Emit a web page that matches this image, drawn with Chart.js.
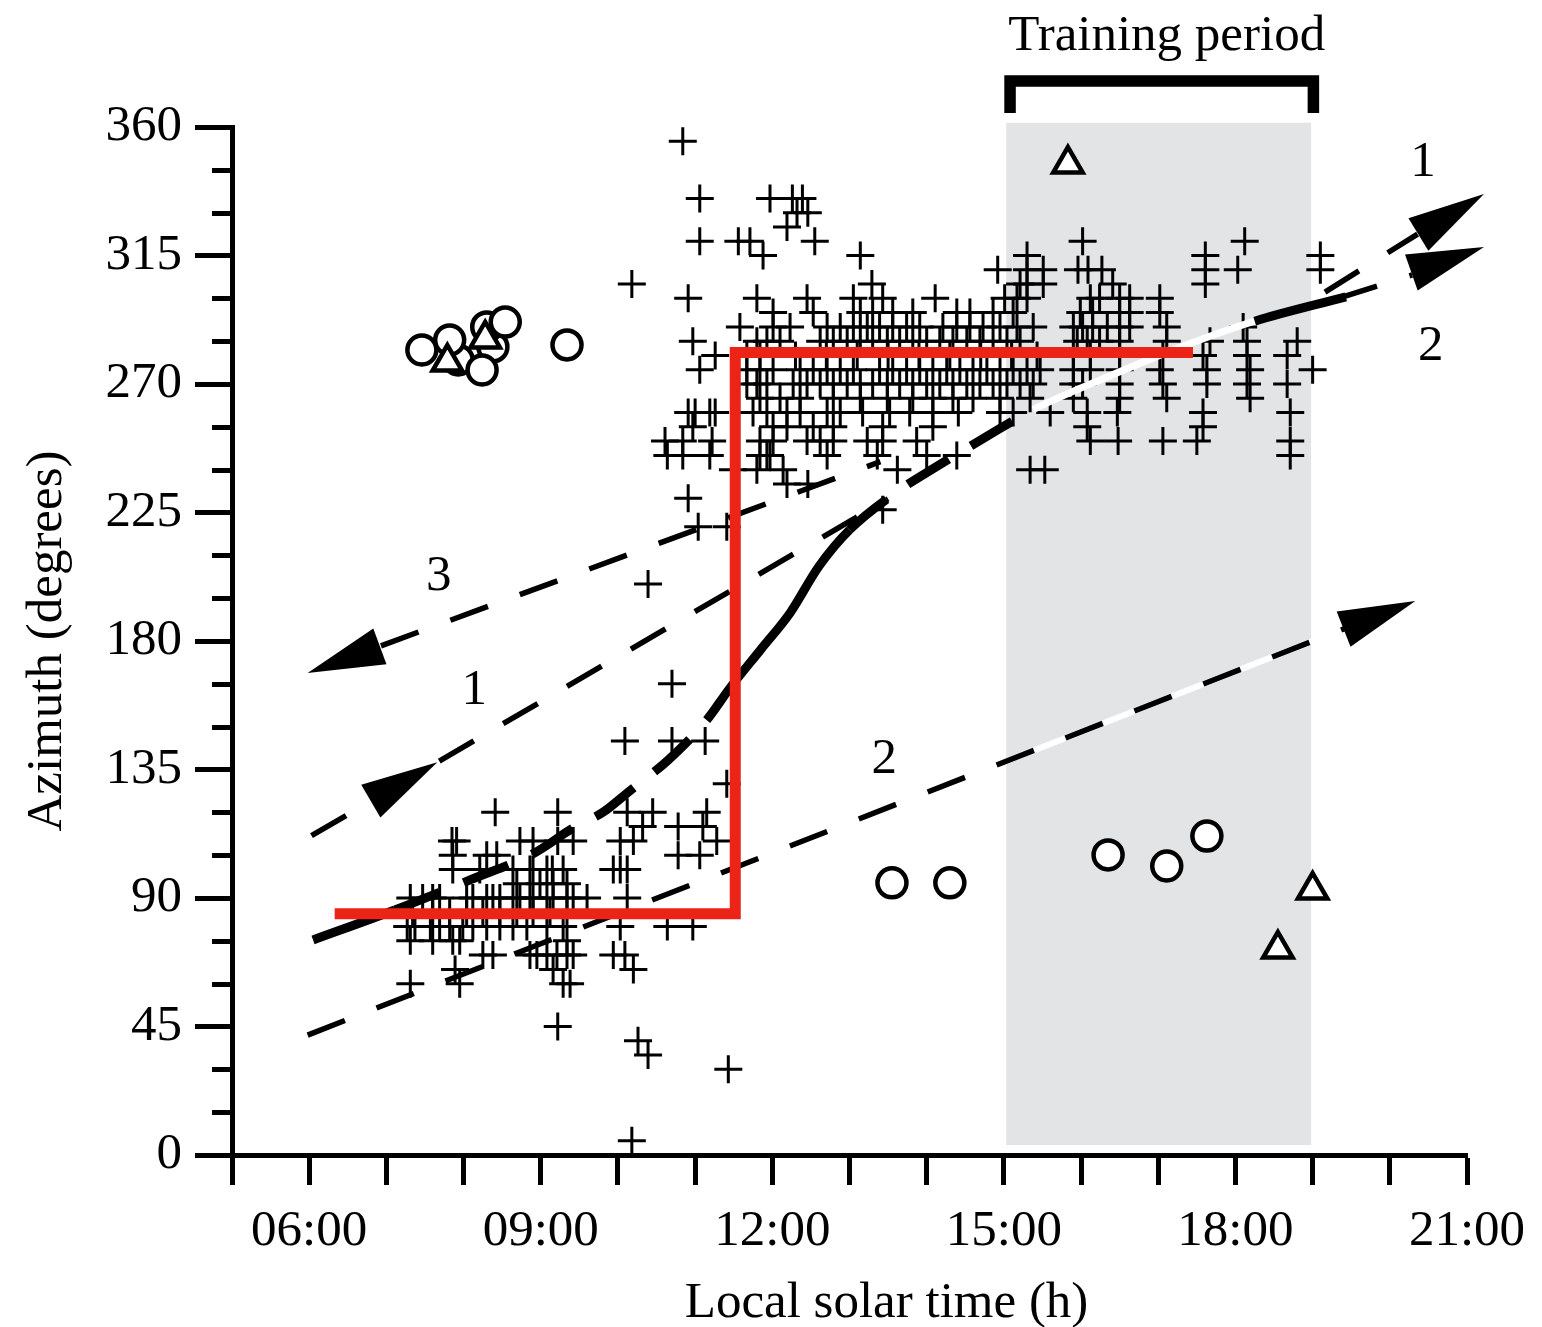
<!DOCTYPE html>
<html>
<head>
<meta charset="utf-8">
<script src="https://cdn.jsdelivr.net/npm/chart.js"></script>
<style>
html,body{margin:0;padding:0;background:#fff;}
#wrap{width:1542px;height:1327px;}
</style>
</head>
<body>
<div id="wrap"><canvas id="c" width="1542" height="1327"></canvas></div>
<script>
const FONT = '"Liberation Serif","Times New Roman",serif';

// ---- tick labels ----
const xTickHours = [6, 9, 12, 15, 18, 21];
const xTickLabels = ['06:00', '09:00', '12:00', '15:00', '18:00', '21:00'];
const yTickLabels = [0, 45, 90, 135, 180, 225, 270, 315, 360];

// ---- plus markers: [azimuth, [local solar times]] ----
const lowCrossRows = [
  [120, [8.41, 9.22, 10.12, 10.45, 11.15]],
  [115, [10.32, 10.78, 11.10]],
  [110, [7.85, 7.91, 8.73, 8.90, 9.22, 9.42, 10.03, 10.20, 11.28]],
  [105, [7.86, 8.30, 8.43, 10.78, 11.06]],
  [100, [7.86, 8.21, 8.64, 8.86, 8.90, 9.08, 9.15, 9.29, 9.94, 10.03, 10.12]],
  [95, [8.69, 8.99, 9.16, 9.34]],
  [90, [7.31, 7.47, 7.60, 7.69, 8.04, 8.12, 8.30, 8.38, 8.47, 8.64, 8.73, 8.86, 8.90, 9.08, 9.16, 9.34, 9.42, 9.60, 10.12]],
  [85, [7.34, 7.60, 7.82, 8.04, 8.25, 8.47, 8.69, 8.90, 9.12, 9.34]],
  [80, [7.27, 7.37, 7.57, 7.69, 7.82, 7.99, 8.12, 8.30, 8.47, 8.64, 8.82, 9.08, 9.29, 10.03, 10.64, 10.97]],
  [75, [7.31, 7.60, 7.86, 7.95, 9.34]],
  [70, [8.25, 8.38, 8.86, 8.95, 9.08, 9.21, 9.34, 9.42, 9.94, 10.09]],
  [65, [7.89, 9.16, 10.20]],
  [60, [7.31, 7.95, 9.29, 9.38]],
  [45, [9.22]],
  [40, [10.26]],
  [35, [10.39]],
  [30, [11.43]],
  [5, [10.18]]
];
const midCrossRows = [
  [130, [11.41]],
  [145, [10.09, 10.70, 11.13]],
  [165, [10.70]],
  [200, [10.39]],
  [220, [11.04, 11.41]],
  [226, [13.43]],
  [230, [10.91]],
  [235, [12.19, 12.46]],
  [240, [11.49, 11.80, 12.14, 13.62, 15.34, 15.53]],
  [245, [10.64, 10.84, 11.19, 11.84, 11.93, 11.97, 12.71, 13.36, 14.00, 14.39, 18.71]],
  [250, [10.61, 10.84, 11.22, 11.84, 12.01, 12.45, 12.62, 12.79, 13.23, 13.43, 13.87, 16.12, 16.48, 17.06, 17.50, 18.71]]
];
const highCrossRows = [
  [355, [10.84]],
  [335, [11.06, 11.97, 12.26, 12.39]],
  [330, [12.32, 12.46]],
  [325, [12.19]],
  [320, [11.06, 11.56, 11.71, 12.55, 16.02, 18.12]],
  [315, [11.88, 13.14, 15.30, 17.61, 19.10]],
  [310, [14.92, 15.30, 15.51, 15.96, 16.09, 16.27, 17.61, 18.03, 19.10]],
  [305, [10.18, 13.29, 15.21, 15.30, 15.51, 16.41, 17.61]],
  [300, [10.91, 11.80, 12.45, 13.05, 13.43, 14.11, 15.01, 15.17, 15.30, 16.12, 16.24, 16.50, 16.63, 17.02]],
  [295, [12.01, 12.53, 13.14, 13.30, 13.56, 13.82, 14.39, 14.56, 14.86, 15.12, 15.99, 16.15, 16.50, 16.63, 17.02]],
  [290, [11.58, 12.01, 12.23, 12.71, 12.88, 13.05, 13.23, 13.39, 13.56, 13.74, 13.91, 14.21, 14.39, 14.56, 14.73, 14.95, 15.17, 15.38, 15.90, 16.02, 16.15, 16.34, 16.50, 16.63, 17.11, 18.10]],
  [285, [10.97, 11.80, 11.93, 12.10, 12.62, 12.79, 12.97, 13.14, 13.30, 13.49, 13.65, 13.82, 14.00, 14.17, 14.34, 14.52, 14.69, 14.86, 15.04, 15.21, 15.95, 16.08, 16.24, 16.50, 17.11, 17.67, 18.15, 18.80]],
  [280, [11.26, 11.67, 11.84, 12.30, 12.70, 13.10, 13.50, 13.90, 14.30, 14.70, 15.10, 15.43, 15.90, 16.12, 16.50, 17.06, 17.58, 18.15, 18.67]],
  [275, [11.06, 11.67, 11.84, 12.01, 12.36, 12.53, 12.71, 12.88, 13.05, 13.39, 13.56, 13.74, 13.91, 14.08, 14.26, 14.43, 14.60, 14.78, 14.95, 15.12, 15.30, 15.47, 15.90, 16.12, 16.50, 17.02, 17.63, 18.19, 19.00]],
  [270, [11.67, 11.80, 11.93, 12.27, 12.45, 12.62, 12.79, 12.97, 13.14, 13.30, 13.49, 13.65, 13.82, 14.00, 14.17, 14.34, 14.52, 14.69, 14.86, 15.04, 15.21, 15.38, 15.90, 16.02, 16.50, 17.06, 17.63, 18.15, 18.67]],
  [265, [11.84, 12.10, 12.36, 12.79, 13.14, 13.49, 13.82, 14.08, 14.34, 14.60, 14.95, 15.34, 15.90, 16.50, 17.11, 18.19]],
  [260, [10.91, 11.00, 11.19, 11.26, 11.75, 11.93, 12.19, 12.36, 12.71, 12.88, 13.17, 13.52, 13.78, 14.08, 14.41, 14.95, 15.12, 15.60, 16.08, 16.47, 17.58, 18.71]],
  [255, [10.97, 12.01, 12.19, 12.53, 12.79, 13.43, 14.08, 16.08, 17.58]]
];

// ---- open circles and triangles: [time, azimuth] ----
const circlePoints = [[7.46, 281.9], [7.93, 278.4], [7.82, 285.4], [8.38, 283], [8.24, 274.9], [8.30, 290], [8.54, 291.7], [9.34, 283.7],
  [13.55, 95.3], [14.30, 95.3], [16.35, 105.1], [17.11, 101.2], [17.63, 111.7]];
const trianglePoints = [[15.83, 347], [19.0, 92.8], [18.55, 72.1], [8.28, 285.8], [7.79, 277.7]];

// ---- thick solar azimuth curve ----
const sunTimes = [6.05, 7.11, 8.1, 8.9, 9.42, 9.81, 10.12, 10.65, 11.15, 11.45, 11.85, 12.23, 12.6, 13.0, 13.65, 14.1, 14.8, 15.38, 16.3, 17.3, 18.25, 19.43];
const sunAzimuths = [75.3, 85.8, 96.5, 105.5, 114.5, 120.1, 126.8, 138.3, 152.3, 163.5, 177, 189.8, 206, 218.9, 232.9, 240.6, 252, 261, 272, 283, 292, 300.5];

// ---- dashed predicted routes: [time, azimuth] end points ----
const route1 = [[6.03, 111.8], [13.5, 229.8]];
const route2 = [[5.98, 42.0], [19.43, 184.5]];
const route2Bright = [[14.95, 137.0], [19.43, 184.5]];
const route3 = [[6.93, 178.3], [13.4, 242.8]];
const route1Late = [[19.16, 302.2], [20.36, 322.5]];
const route2Late = [[19.34, 300.1], [20.29, 308.2]];
// arrow heads: [tipTime, tipAz, tailTime, tailAz]
const arrowHeads = [[5.98, 168.8, 13.4, 242.8], [7.66, 137.5, 6.03, 111.8], [20.33, 194.0, 5.98, 42.0],
  [21.22, 336.5, 19.16, 302.2], [21.22, 318.0, 19.34, 300.1]];
const routeLabels = ['1', '2', '3', '1', '2'];
const routeLabelTimes = [20.43, 20.53, 7.68, 8.14, 13.45];
const routeLabelAz = [347.4, 283.0, 202.4, 162.8, 138.3];

// ---- red step ----
const stepTimes = [6.33, 11.52, 11.52, 17.45];
const stepAz = [84.5, 84.5, 281, 281];

// ---- training period ----
const trainingWindow = [15.03, 18.98];
const trainingAz = [3.5, 361.5];
const bracketTimes = [15.08, 19.01];

const rowsToPts = rows => rows.flatMap(([az, ts]) => ts.map(t => ({x: t, y: az})));
const pairsToPts = arr => arr.map(([x, y]) => ({x, y}));
const zipPts = (xs, ys) => xs.map((x, i) => ({x, y: ys[i]}));

function sunSegKind(c) {
  const t0 = c.p0.parsed.x;
  if (t0 < 7.0) return 'solid';
  if (t0 < 11.0) return 'dash';
  if (t0 < 12.9) return 'solid';
  if (t0 < 15.3) return 'dash';
  if (t0 < 18.2) return 'white';
  return 'solid';
}

const dashLine = (pts, order) => ({
  data: pairsToPts(pts), showLine: true, borderColor: '#000', borderWidth: 5.5,
  borderDash: [40, 34], borderCapStyle: 'butt', pointRadius: 0, tension: 0, order, clip: false
});

const deco = {
  id: 'deco',
  beforeDatasetsDraw(chart) {
    const {ctx, scales: {x, y}} = chart;
    ctx.save();
    ctx.fillStyle = '#e3e4e6';
    const x0 = x.getPixelForValue(trainingWindow[0]), x1 = x.getPixelForValue(trainingWindow[1]);
    const y0 = y.getPixelForValue(trainingAz[1]), y1 = y.getPixelForValue(trainingAz[0]);
    ctx.fillRect(x0, y0, x1 - x0, y1 - y0);
    ctx.restore();
  },
  afterDatasetsDraw(chart) {
    const {ctx, scales: {x, y}} = chart;
    ctx.save();
    ctx.fillStyle = '#000';
    arrowHeads.forEach(([tt, ta, bt, ba]) => {
      const tx = x.getPixelForValue(tt), ty = y.getPixelForValue(ta);
      const fx = x.getPixelForValue(bt), fy = y.getPixelForValue(ba);
      const ang = Math.atan2(ty - fy, tx - fx);
      const len = 77, half = 19;
      const bx = tx - Math.cos(ang) * len, by = ty - Math.sin(ang) * len;
      const nx = -Math.sin(ang) * half, ny = Math.cos(ang) * half;
      ctx.beginPath();
      ctx.moveTo(tx, ty);
      ctx.lineTo(bx + nx, by + ny);
      ctx.lineTo(bx - nx, by - ny);
      ctx.closePath();
      ctx.fill();
    });
    ctx.restore();
  },
  afterDraw(chart) {
    const {ctx, chartArea, scales: {x, y}} = chart;
    ctx.save();
    // minor y ticks
    ctx.strokeStyle = '#000';
    ctx.lineWidth = 5;
    ctx.beginPath();
    y.ticks.forEach(t => {
      if (t.value % 45 !== 0) {
        const py = Math.round(y.getPixelForValue(t.value)) + 0.5;
        ctx.moveTo(chartArea.left - 20, py);
        ctx.lineTo(chartArea.left, py);
      }
    });
    ctx.stroke();
    // route labels
    ctx.fillStyle = '#000';
    ctx.font = '51px ' + FONT;
    ctx.textAlign = 'center';
    ctx.textBaseline = 'middle';
    routeLabels.forEach((s, i) => {
      ctx.fillText(s, x.getPixelForValue(routeLabelTimes[i]), y.getPixelForValue(routeLabelAz[i]));
    });
    // training bracket
    const bl = x.getPixelForValue(bracketTimes[0]), br = x.getPixelForValue(bracketTimes[1]);
    ctx.lineWidth = 11.5;
    ctx.lineJoin = 'miter';
    ctx.lineCap = 'butt';
    ctx.beginPath();
    ctx.moveTo(bl, 113);
    ctx.lineTo(bl, 81);
    ctx.lineTo(br, 81);
    ctx.lineTo(br, 113);
    ctx.stroke();
    ctx.textBaseline = 'alphabetic';
    ctx.fillText('Training period', (bl + br) / 2 + 5, 50);
    // axis titles
    ctx.fillText('Local solar time (h)', x.getPixelForValue(13.48), 1317);
    ctx.translate(61, (chartArea.top + chartArea.bottom) / 2);
    ctx.rotate(-Math.PI / 2);
    ctx.fillText('Azimuth (degrees)', 0, 0);
    ctx.restore();
  }
};

new Chart(document.getElementById('c'), {
  type: 'line',
  data: {
    datasets: [
      {data: zipPts(stepTimes, stepAz), showLine: true, borderColor: '#ec2418', borderWidth: 11,
        borderJoinStyle: 'miter', borderCapStyle: 'butt', pointRadius: 0, tension: 0, order: 0, clip: false},
      {data: zipPts(sunTimes, sunAzimuths), showLine: true, borderColor: '#000', borderWidth: 9,
        cubicInterpolationMode: 'monotone', pointRadius: 0, order: 1, clip: false,
        segment: {
          borderDash: c => sunSegKind(c) === 'dash' ? [48, 26] : [],
          borderColor: c => sunSegKind(c) === 'white' ? '#ffffff' : '#000000',
          borderWidth: c => sunSegKind(c) === 'white' ? 7 : 9
        }},
      dashLine(route1, 2),
      dashLine(route2, 2),
      dashLine(route3, 2),
      dashLine(route1Late, 2),
      dashLine(route2Late, 2),
      {data: pairsToPts(route2Bright), showLine: true, borderColor: '#ffffff', borderWidth: 6,
        pointRadius: 0, tension: 0, order: 3, clip: false},
      {data: pairsToPts(trianglePoints), showLine: false, pointStyle: 'triangle', pointRadius: 17,
        pointBorderWidth: 4.5, pointBorderColor: '#000', pointBackgroundColor: '#fff', order: 4, clip: false},
      {data: pairsToPts(circlePoints), showLine: false, pointStyle: 'circle', pointRadius: 14.5,
        pointBorderWidth: 4.5, pointBorderColor: '#000', pointBackgroundColor: '#fff', order: 5, clip: false},
      {data: rowsToPts(lowCrossRows).concat(rowsToPts(midCrossRows), rowsToPts(highCrossRows)),
        showLine: false, pointStyle: 'cross', pointRadius: 14, pointBorderWidth: 3,
        pointBorderColor: '#000', pointBackgroundColor: '#000', order: 6, clip: false}
    ]
  },
  options: {
    responsive: false,
    animation: false,
    events: [],
    devicePixelRatio: 1,
    layout: {padding: {left: 0, top: 127, right: 75, bottom: 0}},
    plugins: {legend: {display: false}, tooltip: {enabled: false}},
    scales: {
      x: {
        type: 'linear', min: 5, max: 21,
        afterFit: s => { s.height = 172; },
        ticks: {
          stepSize: 1, autoSkip: false, maxRotation: 0, padding: 16, color: '#000',
          font: {family: FONT, size: 51},
          callback: v => { const i = xTickHours.indexOf(v); return i >= 0 ? xTickLabels[i] : ''; }
        },
        grid: {drawOnChartArea: false, tickLength: 30, tickWidth: 5, tickColor: '#000'},
        border: {display: true, color: '#000', width: 5}
      },
      y: {
        type: 'linear', min: 0, max: 360,
        afterFit: s => { s.width = 232; },
        ticks: {
          stepSize: 15, autoSkip: false, padding: 13, color: '#000',
          font: {family: FONT, size: 51},
          callback: v => yTickLabels.includes(v) ? String(v) : ''
        },
        grid: {drawOnChartArea: false, tickLength: 37, tickWidth: 5,
          tickColor: c => (c.tick && yTickLabels.includes(c.tick.value)) ? '#000' : 'rgba(0,0,0,0)'},
        border: {display: true, color: '#000', width: 5}
      }
    }
  },
  plugins: [deco]
});
</script>
</body>
</html>
